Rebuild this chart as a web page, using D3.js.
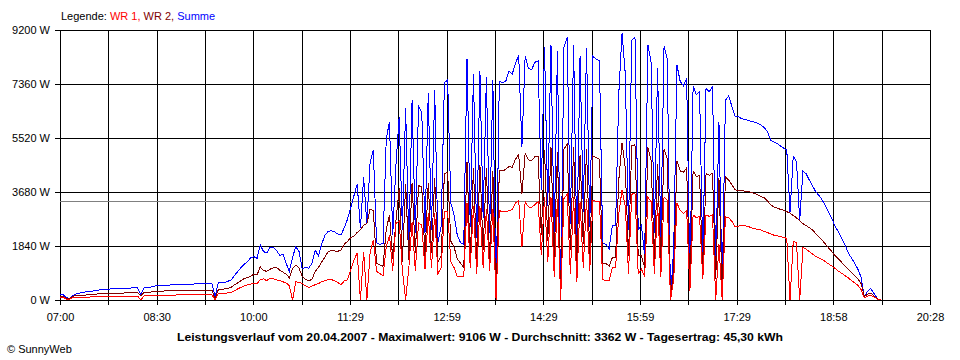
<!DOCTYPE html>
<html>
<head>
<meta charset="utf-8">
<script src="https://cdn.jsdelivr.net/npm/d3@7"></script>
<style>
  body { margin: 0; background: #fff; }
  svg { display: block; font-family: "Liberation Sans", Arial, sans-serif; }
</style>
</head>
<body>
<div id="chart"></div>
<script>
// samples every 3 minutes, starting 07:00
const startLabel = "07:00";
const stepMinutes = 3;
const spanMinutes = 808; // 07:00 .. 20:28

const timeLabels = ["07:00", "08:30", "10:00", "11:29", "12:59", "14:29", "15:59", "17:29", "18:58", "20:28"];
const yTicks = [0, 1840, 3680, 5520, 7360, 9200];
const average = 3362;

// Summe
const summe = [
  170,180,80,60,150,210,230,260,280,290,
  300,330,340,350,360,370,380,390,390,400,
  400,400,410,410,410,200,420,430,440,470,
  490,490,500,510,510,520,520,530,530,540,
  540,540,550,550,560,560,560,565,110,580,
  590,600,640,690,830,970,1100,1220,1300,1440,
  1480,1420,1880,1650,1600,1790,1800,1700,1520,1560,
  1250,980,1450,1820,1650,1060,1120,1080,1250,1700,
  1500,1900,2200,2340,2360,2320,2250,2220,2460,2750,
  3150,3550,3950,2450,4180,2600,4700,5100,1950,1900,
  1930,5500,6070,2200,4600,6250,2400,6550,1850,6800,
  2300,6600,6400,2300,7050,2400,7150,1950,2500,7400,
  7500,3300,2900,2200,1950,1900,8200,2500,7700,2100,
  7800,2800,7600,2300,7500,0,7460,7400,7450,7800,
  7700,8050,8350,5200,8300,7900,7850,8100,8150,3750,
  8630,3200,8700,2100,8500,0,8600,8950,2600,8700,
  1800,8300,3000,8600,2500,8300,8200,8150,1950,1900,
  1750,2550,2550,7050,9100,7700,2400,8860,8950,2400,
  2550,1500,8700,8100,2300,7900,2100,8650,8200,0,
  1800,8000,7450,7300,7550,800,7300,7000,7100,1400,
  7200,7100,7270,1200,6050,300,6800,6950,6600,6250,
  6250,6180,6150,6120,6080,6060,6020,5960,5880,5740,
  5450,5380,5330,5250,5180,5100,3000,4900,4720,2720,
  4400,4300,4080,3880,3680,3560,3400,3200,2980,2760,
  2500,2330,2100,1880,1620,1430,1260,1050,780,100,
  300,390,220,50,0
];

// WR 2
const wr2 = [
  110,110,60,50,130,150,150,160,170,180,
  190,200,210,220,220,225,230,230,235,235,
  240,240,240,245,245,150,250,260,270,290,
  300,300,305,310,310,315,315,320,320,325,
  325,330,330,335,335,340,340,340,60,350,
  360,380,400,430,520,580,660,730,770,800,
  880,850,1130,1000,980,1050,1090,1110,1020,950,
  880,760,1080,1190,1090,800,700,660,700,980,
  1100,1300,1450,1650,1680,1670,1660,1700,1900,2000,
  2120,2180,2300,2400,2550,2600,3100,3050,1250,1200,
  1150,2400,2900,1400,2700,3800,1300,3950,1360,4000,
  1600,3900,3850,1500,4000,1600,4150,1300,1500,4300,
  4350,2000,1800,1400,1250,1100,4700,1400,4500,1300,
  4600,1700,4500,1400,4400,0,4400,4400,4450,4550,
  4520,4800,4950,3600,5000,4780,4750,4880,4900,2200,
  5100,2000,5200,1400,5050,0,5150,5300,1700,5200,
  1200,4950,1900,5150,1500,4900,4850,4800,1250,1250,
  1150,1450,1450,4100,5350,4500,1500,5250,5300,1500,
  1500,1100,5200,4750,1400,4650,1300,5150,4800,0,
  1100,4750,4400,4350,4500,500,4400,4200,4250,800,
  4300,4250,4320,700,4150,200,4200,4090,3920,3760,
  3720,3720,3710,3700,3670,3630,3580,3530,3480,3380,
  3250,3170,3130,3090,3060,3010,2960,2880,2800,2700,
  2600,2540,2460,2380,2260,2140,2030,1900,1770,1640,
  1500,1400,1280,1170,1050,940,820,720,560,120,
  200,230,140,40,0
];

// WR 1
const wr1 = [
  90,90,30,20,90,100,100,100,100,100,
  110,110,110,120,120,120,125,125,125,130,
  130,130,135,135,135,0,140,145,150,155,
  160,160,165,165,170,170,170,175,175,180,
  180,180,185,185,185,190,190,190,0,230,
  230,230,240,260,310,380,430,480,510,540,
  570,560,700,720,660,740,720,690,660,620,
  580,490,0,620,600,560,480,430,470,520,
  560,620,660,700,700,650,600,520,650,690,
  1020,1360,1600,0,1650,0,1600,2050,980,900,
  820,1800,2200,1000,2600,2700,1000,0,1100,2650,
  1000,2620,2550,1050,2950,1100,2950,900,1100,3000,
  3000,1300,1100,800,800,800,3300,1100,3200,900,
  3200,1100,3100,1000,3100,0,3050,3000,3000,3050,
  3080,3300,3400,1800,3350,3170,3150,3250,3350,1550,
  3500,1300,3500,800,3450,0,3450,3600,900,3500,
  600,3350,1100,3450,1000,3400,3350,3350,700,650,
  650,1100,1100,2950,3750,3200,900,3600,3650,900,
  1050,800,3500,3350,900,3300,800,3500,3400,0,
  700,3300,3050,2950,3050,300,2900,2800,2850,700,
  2900,2850,2900,0,1900,0,2840,2800,2680,2500,
  2520,2540,2530,2510,2460,2430,2410,2390,2330,2300,
  2250,2210,2190,2160,2130,2100,0,2000,1960,0,
  1790,1730,1650,1560,1480,1430,1380,1300,1230,1150,
  1070,980,910,830,760,660,590,500,350,70,
  130,160,110,30,0
];

const titleText = "Leistungsverlauf vom 20.04.2007 - Maximalwert: 9106 W - Durchschnitt: 3362 W - Tagesertrag: 45,30 kWh";

const W = 960, H = 360;
const margin = { top: 30, right: 30, bottom: 60, left: 60 };
const width = W - margin.left - margin.right,
  height = H - margin.top - margin.bottom;

const svg = d3.select("#chart")
  .append("svg")
  .attr("width", W)
  .attr("height", H);

svg.append("rect").attr("width", W).attr("height", H).attr("fill", "#fff");

const x = d3.scaleLinear()
  .domain([0, spanMinutes])
  .range([margin.left, margin.left + width]);

const y = d3.scaleLinear()
  .domain([0, 9200])
  .range([margin.top + height, margin.top]);

// vertical grid every half label step
const gridTimes = d3.range(19).map(k => k * spanMinutes / 18);

svg.append("g")
  .attr("transform", `translate(0,${margin.top + height})`)
  .call(d3.axisBottom(x).tickValues(gridTimes).tickSize(-height).tickFormat(""))
  .call(g => g.select(".domain").remove())
  .selectAll("line")
  .attr("stroke", "#000")
  .attr("shape-rendering", "crispEdges");

// horizontal grid
svg.append("g")
  .attr("transform", `translate(${margin.left},0)`)
  .call(d3.axisLeft(y).tickValues(yTicks).tickSize(-width).tickFormat(""))
  .call(g => g.select(".domain").remove())
  .selectAll("line")
  .attr("stroke", "#000")
  .attr("shape-rendering", "crispEdges");

// x axis ticks + labels
const xAxis = svg.append("g")
  .attr("transform", `translate(0,${margin.top + height})`)
  .call(d3.axisBottom(x).tickValues(gridTimes).tickSize(5).tickPadding(8)
    .tickFormat((d, i) => i % 2 === 0 ? timeLabels[i / 2] : ""));
xAxis.select(".domain").remove();
xAxis.selectAll("line").attr("stroke", "#000").attr("shape-rendering", "crispEdges");
xAxis.selectAll("text")
  .attr("fill", "#000")
  .style("font-family", "'Liberation Sans', Arial, sans-serif")
  .style("font-size", "11px");

// y axis ticks + labels
const yAxis = svg.append("g")
  .attr("transform", `translate(${margin.left},0)`)
  .call(d3.axisLeft(y).tickValues(yTicks).tickSize(5).tickPadding(5)
    .tickFormat(d => d + " W"));
yAxis.select(".domain").remove();
yAxis.selectAll("line").attr("stroke", "#000").attr("shape-rendering", "crispEdges");
yAxis.selectAll("text")
  .attr("fill", "#000")
  .style("font-family", "'Liberation Sans', Arial, sans-serif")
  .style("font-size", "11px");

// average line
svg.append("line")
  .attr("x1", x(0)).attr("x2", x(spanMinutes))
  .attr("y1", Math.round(y(average)) + 0.5).attr("y2", Math.round(y(average)) + 0.5)
  .attr("stroke", "#808080")
  .attr("stroke-width", 1);

const line = d3.line()
  .x((d, i) => x(i * stepMinutes))
  .y(d => y(d));

const series = [
  { name: "Summe", values: summe, color: "#0000ff" },
  { name: "WR 2", values: wr2, color: "#800000" },
  { name: "WR 1", values: wr1, color: "#ff0000" }
];

svg.append("g")
  .selectAll("path")
  .data(series)
  .join("path")
  .attr("d", d => line(d.values))
  .attr("fill", "none")
  .attr("stroke", d => d.color)
  .attr("stroke-width", 1)
  .attr("shape-rendering", "crispEdges");

// legend
const legend = svg.append("text")
  .attr("x", 61)
  .attr("y", 20)
  .style("font-size", "11px");
legend.append("tspan").attr("fill", "#000").text("Legende: ");
legend.append("tspan").attr("fill", "#ff0000").text("WR 1, ");
legend.append("tspan").attr("fill", "#800000").text("WR 2, ");
legend.append("tspan").attr("fill", "#0000ff").text("Summe");

// title
svg.append("text")
  .attr("x", 177)
  .attr("y", 341)
  .attr("textLength", 606)
  .attr("lengthAdjust", "spacingAndGlyphs")
  .style("font-size", "11px")
  .style("font-weight", "bold")
  .attr("fill", "#000")
  .text(titleText);

svg.append("text")
  .attr("x", 7)
  .attr("y", 353)
  .style("font-size", "11px")
  .attr("fill", "#000")
  .text("\u00A9 SunnyWeb");
</script>
</body>
</html>
